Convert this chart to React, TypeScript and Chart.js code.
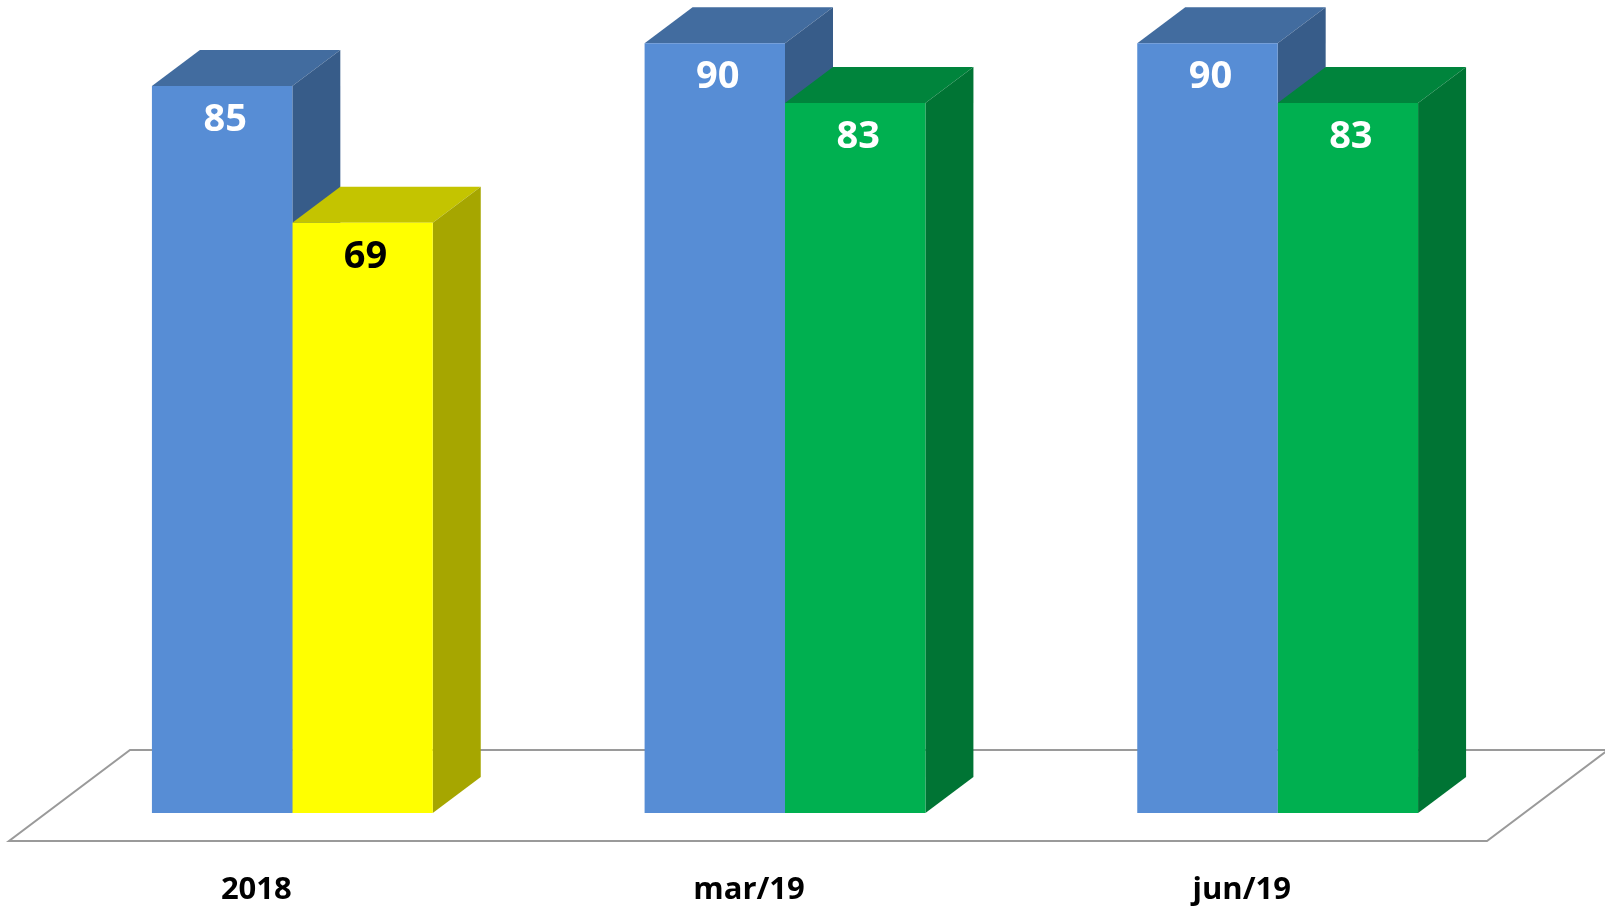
import React, { useEffect, useRef } from "react";
import { Chart, registerables } from "chart.js";

Chart.register(...registerables);

const categories = ["2018", "mar/19", "jun/19"];
const seriesA = [85, 90, 90];
const seriesB = [69, 83, 83];

const frontA = ["#578DD5", "#578DD5", "#578DD5"];
const topA = ["#426C9F", "#426C9F", "#426C9F"];
const sideA = ["#375C89", "#375C89", "#375C89"];
const labelA = ["#FFFFFF", "#FFFFFF", "#FFFFFF"];

const frontB = ["#FFFF00", "#00B050", "#00B050"];
const topB = ["#C4C400", "#00843C", "#00843C"];
const sideB = ["#A6A600", "#007434", "#007434"];
const labelB = ["#000000", "#FFFFFF", "#FFFFFF"];

const DX = 48;
const DY = 36;

const topColors = [topA, topB];
const sideColors = [sideA, sideB];
const labelColors = [labelA, labelB];

const threeD = {
  id: "threeD",
  beforeDatasetsDraw(chart: any) {
    const ctx = chart.ctx;
    const area = chart.chartArea;
    const base = chart.scales.y.getPixelForValue(0);
    const fl = area.left - 37;
    const fr = area.right - 37;
    const fy = base + 28;
    ctx.save();
    ctx.strokeStyle = "#9A9A9A";
    ctx.lineWidth = 2;
    ctx.beginPath();
    ctx.moveTo(fl, fy);
    ctx.lineTo(fr, fy);
    ctx.lineTo(fr + 121, fy - 91);
    ctx.lineTo(fl + 121, fy - 91);
    ctx.closePath();
    ctx.stroke();
    for (let i = 0; i < categories.length; i++) {
      for (let d = 0; d < chart.data.datasets.length; d++) {
        const el: any = chart.getDatasetMeta(d).data[i];
        if (!el) continue;
        const left = el.x - el.width / 2;
        const right = el.x + el.width / 2;
        const top = el.y;
        const bottom = el.base;
        ctx.fillStyle = topColors[d][i];
        ctx.beginPath();
        ctx.moveTo(left, top);
        ctx.lineTo(left + DX, top - DY);
        ctx.lineTo(right + DX, top - DY);
        ctx.lineTo(right, top);
        ctx.closePath();
        ctx.fill();
        ctx.fillStyle = sideColors[d][i];
        ctx.beginPath();
        ctx.moveTo(right, top);
        ctx.lineTo(right + DX, top - DY);
        ctx.lineTo(right + DX, bottom - DY);
        ctx.lineTo(right, bottom);
        ctx.closePath();
        ctx.fill();
      }
    }
    ctx.restore();
  },
  afterDatasetsDraw(chart: any) {
    const ctx = chart.ctx;
    ctx.save();
    ctx.font = "bold 38px 'Open Sans', sans-serif";
    ctx.textAlign = "center";
    ctx.textBaseline = "middle";
    for (let d = 0; d < chart.data.datasets.length; d++) {
      const meta = chart.getDatasetMeta(d);
      const vals = chart.data.datasets[d].data;
      meta.data.forEach((el: any, i: number) => {
        ctx.fillStyle = labelColors[d][i];
        ctx.fillText(String(vals[i]), el.x + 3, el.y + 34);
      });
    }
    const base = chart.scales.y.getPixelForValue(0);
    ctx.fillStyle = "#000000";
    ctx.font = "bold 31px 'Open Sans', sans-serif";
    categories.forEach((c, i) => {
      const x = chart.scales.x.getPixelForValue(i);
      ctx.fillText(c, x - 36, base + 77);
    });
    ctx.restore();
  },
};

export default function App() {
  const ref = useRef<HTMLCanvasElement | null>(null);
  useEffect(() => {
    if (!ref.current) return;
    const chart = new Chart(ref.current, {
      type: "bar",
      data: {
        labels: categories,
        datasets: [
          { data: seriesA, backgroundColor: frontA, borderWidth: 0 },
          { data: seriesB, backgroundColor: frontB, borderWidth: 0 },
        ],
      },
      options: {
        responsive: false,
        animation: false,
        layout: { padding: { left: 46, right: 81, top: 9, bottom: 102 } },
        datasets: { bar: { categoryPercentage: 0.57, barPercentage: 1 } },
        plugins: { legend: { display: false }, tooltip: { enabled: false } },
        scales: {
          x: { display: false },
          y: { display: false, min: 0, max: 94 },
        },
      },
      plugins: [threeD],
    });
    return () => chart.destroy();
  }, []);
  return (
    <div style={{ position: "fixed", left: 0, top: 0, width: 1605, height: 915, background: "#fff" }}>
      <canvas ref={ref} width={1605} height={915} style={{ width: 1605, height: 915 }} />
    </div>
  );
}
